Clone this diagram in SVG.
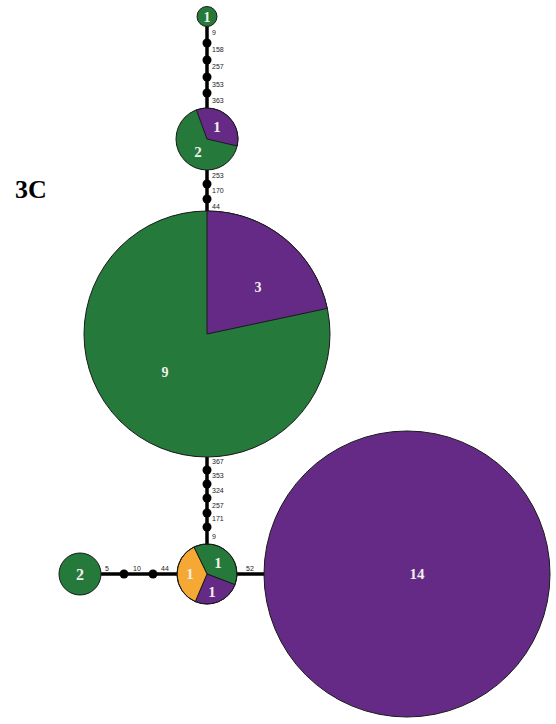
<svg xmlns="http://www.w3.org/2000/svg" width="556" height="724" viewBox="0 0 556 724">
<style>
.g{fill:#24793b;stroke:#1a1a1a;stroke-width:1}
.p{fill:#652a86;stroke:#1a1a1a;stroke-width:1}
.o{fill:#f5a834;stroke:#1a1a1a;stroke-width:1}
.e{stroke:#000;stroke-width:3.5;fill:none}
.d{fill:#000}
.m{font-family:"Liberation Sans",Arial,sans-serif;font-size:7px;fill:#222}
.n{font-family:"Liberation Serif","Times New Roman",serif;font-weight:bold;fill:#f3f0ea;text-anchor:middle;dominant-baseline:central}
</style>
<rect width="556" height="724" fill="#fff"/>
<text x="15" y="198" font-family="Liberation Serif,'Times New Roman',serif" font-weight="bold" font-size="26" fill="#000">3C</text>
<g id="connectors">
<line class="e" x1="207" y1="26" x2="207" y2="108"/>
<line class="e" x1="207" y1="170" x2="207" y2="211"/>
<line class="e" x1="207" y1="457" x2="207" y2="545"/>
<line class="e" x1="101" y1="574" x2="177" y2="574"/>
<line class="e" x1="237" y1="574" x2="265" y2="574"/>
<circle class="d" cx="207" cy="43" r="4.5"/>
<circle class="d" cx="207" cy="60" r="4.5"/>
<circle class="d" cx="207" cy="77" r="4.5"/>
<circle class="d" cx="207" cy="93" r="4.5"/>
<circle class="d" cx="207" cy="184" r="4.5"/>
<circle class="d" cx="207" cy="199" r="4.5"/>
<circle class="d" cx="207" cy="470" r="4.5"/>
<circle class="d" cx="207" cy="484" r="4.5"/>
<circle class="d" cx="207" cy="498" r="4.5"/>
<circle class="d" cx="207" cy="513" r="4.5"/>
<circle class="d" cx="207" cy="527" r="4.5"/>
<circle class="d" cx="124" cy="574" r="4.5"/>
<circle class="d" cx="153" cy="574" r="4.5"/>
<text class="m" x="212" y="35">9</text>
<text class="m" x="212" y="52">158</text>
<text class="m" x="212" y="69">257</text>
<text class="m" x="212" y="87">353</text>
<text class="m" x="212" y="103">363</text>
<text class="m" x="212" y="178">253</text>
<text class="m" x="212" y="193">170</text>
<text class="m" x="212" y="209">44</text>
<text class="m" x="212" y="464">367</text>
<text class="m" x="212" y="478">353</text>
<text class="m" x="212" y="493">324</text>
<text class="m" x="212" y="508">257</text>
<text class="m" x="212" y="521">171</text>
<text class="m" x="212" y="539">9</text>
<text class="m" x="105" y="571">5</text>
<text class="m" x="133" y="571">10</text>
<text class="m" x="161" y="571">44</text>
<text class="m" x="246" y="571">52</text>
</g>
<g id="node-top">
<circle class="g" cx="207" cy="16.5" r="10"/>
<text class="n" x="207" y="17" font-size="14">1</text>
</g>
<g id="node-2">
<circle class="g" cx="207" cy="139" r="31"/>
<path class="p" d="M207,139 L196.4,109.9 A31,31 0 0 1 237.2,146 Z"/>
<text class="n" x="217" y="127" font-size="15">1</text>
<text class="n" x="198" y="152" font-size="15">2</text>
</g>
<g id="node-big">
<circle class="g" cx="207" cy="334" r="123"/>
<path class="p" d="M207,334 L207,211 A123,123 0 0 1 327.3,308.4 Z"/>
<text class="n" x="258" y="287" font-size="14">3</text>
<text class="n" x="165" y="372" font-size="14">9</text>
</g>
<g id="node-center">
<path class="g" d="M207,574 L193.9,547 A30,30 0 0 1 235,584.7 Z"/>
<path class="p" d="M207,574 L235,584.7 A30,30 0 0 1 195.3,601.6 Z"/>
<path class="o" d="M207,574 L195.3,601.6 A30,30 0 0 1 193.9,547 Z"/>
<circle cx="207" cy="574" r="30" fill="none" stroke="#1a1a1a" stroke-width="1"/>
<text class="n" x="218" y="563" font-size="15">1</text>
<text class="n" x="190" y="574" font-size="15">1</text>
<text class="n" x="212" y="592" font-size="15">1</text>
</g>
<g id="node-left">
<circle class="g" cx="80" cy="574" r="21"/>
<text class="n" x="80" y="574" font-size="16">2</text>
</g>
<g id="node-right">
<circle class="p" cx="407" cy="574" r="143"/>
<text class="n" x="417" y="574" font-size="15">14</text>
</g>
</svg>
